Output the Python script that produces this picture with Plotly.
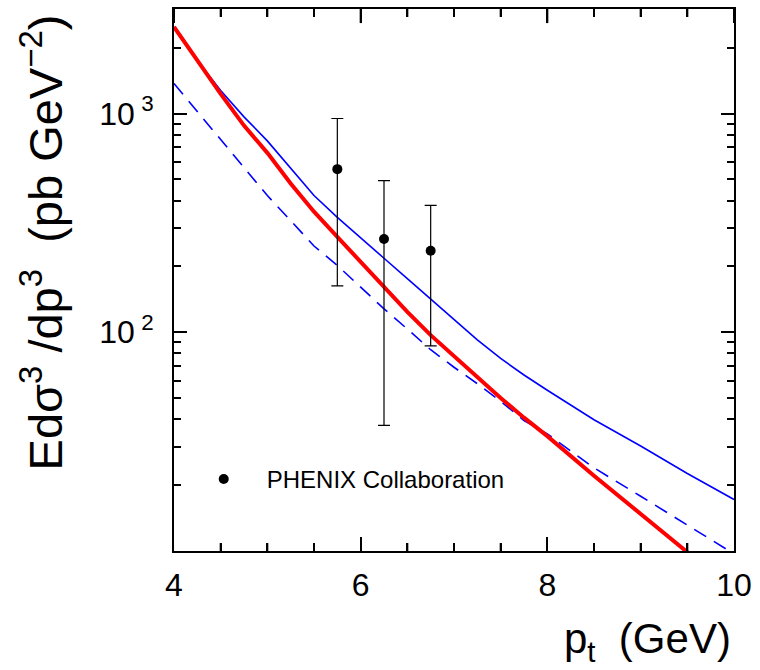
import math
import plotly.graph_objects as go

# ---- data ----
pt_theory = [4.0, 4.25, 4.5, 4.75, 5.0, 5.25, 5.5, 5.75, 6.0, 6.25, 6.5, 6.75,
             7.0, 7.25, 7.5, 7.75, 8.0, 8.5, 9.0, 9.5, 10.0]
red_curve = [2489, 1738, 1230, 881, 661, 479, 356, 273, 209, 161, 124, 97,
             77.6, 62.4, 50.1, 40.7, 33.5, 22.1, 14.7, 9.8, 6.6]
blue_solid = [2489, 1750, 1274, 966, 750, 562, 422, 335, 269, 218, 176, 142,
              115, 92.3, 75.9, 63.8, 54.3, 39.8, 30.2, 22.6, 17.2]
blue_dashed = [1371, 1023, 767, 569, 422, 324, 248, 202, 160, 128, 103.5, 83.2,
               69.2, 58.2, 48.4, 39.5, 34.3, 24.0, 17.8, 13.2, 9.7]

phenix_pt = [5.75, 6.25, 6.75]
phenix_val = [557, 267, 236]
phenix_up = [949, 494, 380]
phenix_lo = [163, 37.5, 86.7]

x_ticks = [4, 6, 8, 10]
x_ticktext = ["4", "6", "8", "10"]
x_minor = [4.5, 5, 5.5, 6.5, 7, 7.5, 8.5, 9, 9.5]
y_ticks = [100, 1000]
y_ticktext = ["10<sup> 2</sup>", "10<sup> 3</sup>"]
y_minor = [20, 30, 40, 50, 60, 70, 80, 90, 200, 300, 400, 500, 600, 700, 800, 900, 2000]

FONT = "Liberation Sans"
X_RANGE = [4, 10]
Y_RANGE = [1, 3.478]

fig = go.Figure()
fig.add_trace(go.Scatter(x=pt_theory, y=blue_dashed, mode="lines", showlegend=False,
                         line=dict(color="#0000ff", width=1.6, dash="14px,9px")))
fig.add_trace(go.Scatter(x=pt_theory, y=blue_solid, mode="lines", showlegend=False,
                         line=dict(color="#0000ff", width=1.6)))
fig.add_trace(go.Scatter(x=pt_theory, y=red_curve, mode="lines", showlegend=False,
                         line=dict(color="#ff0000", width=4)))
fig.add_trace(go.Scatter(
    x=phenix_pt, y=phenix_val, mode="markers", name="PHENIX Collaboration",
    marker=dict(color="black", size=10),
    error_y=dict(type="data", symmetric=False,
                 array=[u - v for u, v in zip(phenix_up, phenix_val)],
                 arrayminus=[v - l for v, l in zip(phenix_val, phenix_lo)],
                 color="black", thickness=1.2, width=6),
))

fig.update_layout(
    width=760, height=670,
    margin=dict(l=174, r=26, t=7, b=119),
    paper_bgcolor="white", plot_bgcolor="white",
    font=dict(family=FONT, color="black"),
    showlegend=True,
    legend=dict(x=0.012, y=0.132, xanchor="left", yanchor="middle",
                bgcolor="rgba(0,0,0,0)", font=dict(size=24, family=FONT),
                itemwidth=76),
    xaxis=dict(range=X_RANGE, tickmode="array", tickvals=x_ticks, ticktext=x_ticktext,
               ticks="inside", ticklen=14, tickwidth=2, tickcolor="black",
               showline=True, linewidth=2, linecolor="black", mirror="allticks",
               showgrid=False, zeroline=False,
               tickfont=dict(size=32, family=FONT), ticklabelstandoff=5,
               minor=dict(tickmode="array", tickvals=x_minor, ticks="inside",
                          ticklen=8, tickwidth=2, tickcolor="black", showgrid=False)),
    yaxis=dict(type="log", range=Y_RANGE, tickmode="array", tickvals=y_ticks,
               ticktext=y_ticktext, ticks="inside", ticklen=13, tickwidth=2,
               tickcolor="black", showline=True, linewidth=2,
               linecolor="black", mirror="allticks", showgrid=False, zeroline=False,
               tickfont=dict(size=32, family=FONT), ticklabelstandoff=12,
               minor=dict(tickmode="array", tickvals=y_minor, ticks="inside",
                          ticklen=7, tickwidth=2, tickcolor="black", showgrid=False)),
)

# short ticks also drawn as line shapes at the same tick values (top/right mirror)
tick_line = dict(color="black", width=2)
for v in x_minor:
    fig.add_shape(type="line", xref="x", yref="paper", x0=v, x1=v, y0=0, y1=0.0147,
                  line=tick_line, layer="above")
    fig.add_shape(type="line", xref="x", yref="paper", x0=v, x1=v, y0=1, y1=0.9853,
                  line=tick_line, layer="above")
for v in x_ticks:
    fig.add_shape(type="line", xref="x", yref="paper", x0=v, x1=v, y0=1, y1=0.974,
                  line=tick_line, layer="above")
for v in y_minor:
    lv = math.log10(v)
    fig.add_shape(type="line", xref="paper", yref="y", x0=0, x1=0.0125, y0=lv, y1=lv,
                  line=tick_line, layer="above")
    fig.add_shape(type="line", xref="paper", yref="y", x0=1, x1=0.9875, y0=lv, y1=lv,
                  line=tick_line, layer="above")

fig.add_annotation(text="Edσ<sup>3</sup> /dp<sup>3</sup>  (pb GeV<sup>−2</sup>)",
                   xref="paper", yref="paper", x=-0.235, y=0.57,
                   xanchor="center", yanchor="middle", textangle=-90,
                   showarrow=False, font=dict(size=47, family=FONT))
fig.add_annotation(text="p<sub>t</sub>  (GeV)",
                   xref="paper", yref="paper", x=0.998, y=-0.167,
                   xanchor="right", yanchor="middle",
                   showarrow=False, font=dict(size=42, family=FONT))

fig.write_html("out.html")
